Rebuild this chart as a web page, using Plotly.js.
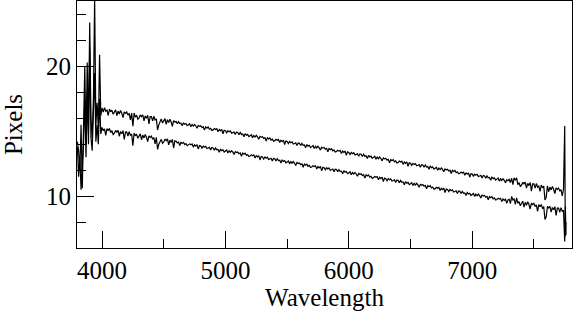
<!DOCTYPE html>
<html>
<head>
<meta charset="utf-8">
<script src="https://cdn.plot.ly/plotly-3.0.1.min.js"></script>
<style>html,body{margin:0;padding:0;background:#fff;}#chart{width:573px;height:311px;}</style>
</head>
<body>
<div id="chart"></div>
<script>
// Wavelength samples (Angstrom)
var wavelength = [
3800,3810,3820,3830,3840,3850,3860,3870,3880,3890,
3900,3910,3920,3930,3940,3950,3960,3970,3980,3990,
4000,4010,4020,4030,4040,4050,4060,4070,4080,4090,
4100,4110,4120,4130,4140,4150,4160,4170,4180,4190,
4200,4210,4220,4230,4240,4250,4260,4270,4280,4290,
4300,4310,4320,4330,4340,4350,4360,4370,4380,4390,
4400,4410,4420,4430,4440,4450,4460,4470,4480,4490,
4500,4510,4520,4530,4540,4550,4560,4570,4580,4590,
4600,4610,4620,4630,4640,4650,4660,4670,4680,4690,
4700,4710,4720,4730,4740,4750,4760,4770,4780,4790,
4800,4810,4820,4830,4840,4850,4860,4870,4880,4890,
4900,4910,4920,4930,4940,4950,4960,4970,4980,4990,
5000,5010,5020,5030,5040,5050,5060,5070,5080,5090,
5100,5110,5120,5130,5140,5150,5160,5170,5180,5190,
5200,5210,5220,5230,5240,5250,5260,5270,5280,5290,
5300,5310,5320,5330,5340,5350,5360,5370,5380,5390,
5400,5410,5420,5430,5440,5450,5460,5470,5480,5490,
5500,5510,5520,5530,5540,5550,5560,5570,5580,5590,
5600,5610,5620,5630,5640,5650,5660,5670,5680,5690,
5700,5710,5720,5730,5740,5750,5760,5770,5780,5790,
5800,5810,5820,5830,5840,5850,5860,5870,5880,5890,
5900,5910,5920,5930,5940,5950,5960,5970,5980,5990,
6000,6010,6020,6030,6040,6050,6060,6070,6080,6090,
6100,6110,6120,6130,6140,6150,6160,6170,6180,6190,
6200,6210,6220,6230,6240,6250,6260,6270,6280,6290,
6300,6310,6320,6330,6340,6350,6360,6370,6380,6390,
6400,6410,6420,6430,6440,6450,6460,6470,6480,6490,
6500,6510,6520,6530,6540,6550,6560,6570,6580,6590,
6600,6610,6620,6630,6640,6650,6660,6670,6680,6690,
6700,6710,6720,6730,6740,6750,6760,6770,6780,6790,
6800,6810,6820,6830,6840,6850,6860,6870,6880,6890,
6900,6910,6920,6930,6940,6950,6960,6970,6980,6990,
7000,7010,7020,7030,7040,7050,7060,7070,7080,7090,
7100,7110,7120,7130,7140,7150,7160,7170,7180,7190,
7200,7210,7220,7230,7240,7250,7260,7270,7280,7290,
7300,7310,7320,7330,7340,7350,7360,7370,7380,7390,
7400,7410,7420,7430,7440,7450,7460,7470,7480,7490,
7500,7510,7520,7530,7540,7550,7560,7570,7580,7590,
7600,7610,7620,7630,7640,7650,7660,7670,7680,7690,
7700,7710,7720,7730,7740,
7750,7755,7760
];

// Upper spectrum (pixels)
var upperSpectrum = [
14.2,13.5,12.0,15.5,10.6,17.0,20.0,14.0,20.3,15.0,
23.4,16.0,14.5,17.5,25.3,15.5,17.2,15.2,20.9,16.2,
16.80,16.48,16.83,16.55,16.63,16.22,16.72,16.50,16.63,16.31,
16.47,16.65,16.20,16.56,16.34,16.61,16.39,16.05,16.50,16.38,
16.49,16.25,16.38,15.88,16.40,15.40,16.41,16.09,16.24,15.94,
16.04,16.26,16.13,16.27,15.81,16.18,16.00,16.24,15.57,16.13,
16.13,15.81,16.16,15.88,15.96,15.10,15.50,15.83,15.96,15.64,
15.80,15.98,15.53,15.89,15.67,15.94,15.72,15.38,15.83,15.71,
15.75,15.58,15.75,15.60,15.63,15.42,15.66,15.54,15.60,15.43,
15.50,15.58,15.35,15.52,15.40,15.53,15.41,15.23,15.45,15.38,
15.42,15.29,15.35,15.09,15.34,15.25,15.33,15.16,15.23,15.07,
15.11,15.21,15.14,15.20,14.96,15.14,15.04,15.15,14.81,15.08,
15.05,14.89,15.05,14.96,15.03,14.86,14.90,14.95,14.75,14.94,
14.91,14.74,14.91,14.76,14.79,14.58,14.82,14.70,14.76,14.59,
14.66,14.74,14.51,14.68,14.56,14.69,14.57,14.39,14.61,14.54,
14.58,14.45,14.51,14.25,14.50,14.41,14.49,14.32,14.39,14.23,
14.28,14.38,14.31,14.37,14.13,14.31,14.21,14.32,13.98,14.25,
14.21,14.05,14.21,14.12,14.19,14.02,14.06,14.11,13.91,14.10,
14.07,13.90,14.07,13.92,13.95,13.74,13.98,13.86,13.92,13.75,
13.82,13.90,13.67,13.84,13.72,13.85,13.73,13.55,13.77,13.70,
13.75,13.62,13.68,13.42,13.67,13.58,13.66,13.49,13.56,13.40,
13.44,13.54,13.47,13.53,13.29,13.47,13.37,13.48,13.14,13.41,
13.37,13.21,13.37,13.28,13.35,13.18,13.22,13.27,13.07,13.26,
13.23,13.06,13.23,13.08,13.11,12.90,13.14,13.02,13.08,12.91,
12.99,13.07,12.84,13.01,12.89,13.02,12.90,12.72,12.94,12.87,
12.91,12.78,12.84,12.58,12.83,12.74,12.82,12.65,12.72,12.56,
12.60,12.70,12.63,12.69,12.45,12.63,12.53,12.64,12.30,12.57,
12.53,12.37,12.53,12.44,12.51,12.34,12.38,12.43,12.23,12.42,
12.40,12.23,12.40,12.25,12.28,12.07,12.31,12.19,12.25,12.08,
12.15,12.23,12.00,12.17,12.05,12.18,12.06,11.88,12.10,12.03,
12.07,11.94,12.00,11.74,11.99,11.90,11.98,11.81,11.88,11.72,
11.76,11.86,11.79,11.85,11.61,11.79,11.69,11.80,11.46,11.73,
11.70,11.54,11.70,11.61,11.68,11.51,11.55,11.60,11.40,11.59,
11.56,11.39,11.56,11.41,11.44,11.23,11.47,11.35,11.41,11.24,
11.31,11.39,11.16,11.33,11.21,11.34,11.22,11.04,11.26,11.19,
11.29,11.05,11.38,10.88,11.40,11.23,11.41,10.89,11.04,10.74,
10.85,11.07,10.94,11.08,10.62,10.99,10.81,11.05,10.38,10.94,
10.94,10.62,10.97,10.69,10.77,10.36,10.86,10.64,10.77,9.70,
9.90,10.79,10.34,10.70,10.48,10.75,10.53,10.19,10.64,10.52,
10.62,10.38,10.51,10.01,10.53,
15.4,6.9,8.0
];

// Lower spectrum (pixels)
var lowerSpectrum = [
13.8,11.5,13.0,10.5,12.5,14.0,17.5,13.0,18.0,14.0,
21.5,14.5,13.5,16.0,19.5,14.2,15.5,14.0,17.5,14.8,
15.30,15.06,15.19,14.69,15.21,15.04,15.22,14.90,15.05,14.75,
14.85,15.07,14.94,15.08,14.62,14.99,14.81,15.05,14.38,14.94,
14.95,14.63,14.98,14.70,14.78,13.90,14.87,14.65,14.78,14.46,
14.62,14.80,14.35,14.71,14.49,14.76,14.54,14.20,14.65,14.53,
14.63,14.39,14.52,14.02,14.54,13.60,14.00,14.23,14.38,14.08,
14.18,14.40,14.27,14.41,13.95,14.32,14.14,14.38,13.71,14.27,
14.24,14.11,14.17,13.91,14.16,14.07,14.15,13.98,14.05,13.89,
13.93,14.03,13.96,14.02,13.78,13.96,13.86,13.97,13.63,13.90,
13.86,13.70,13.86,13.77,13.84,13.67,13.71,13.76,13.56,13.75,
13.72,13.55,13.72,13.57,13.60,13.39,13.63,13.51,13.57,13.40,
13.48,13.56,13.33,13.50,13.38,13.51,13.39,13.21,13.43,13.36,
13.40,13.27,13.33,13.07,13.32,13.23,13.31,13.14,13.21,13.05,
13.09,13.19,13.12,13.18,12.94,13.12,13.02,13.13,12.79,13.06,
13.02,12.86,13.02,12.93,13.00,12.83,12.87,12.92,12.72,12.91,
12.89,12.72,12.89,12.74,12.77,12.56,12.80,12.68,12.74,12.57,
12.64,12.72,12.49,12.66,12.54,12.67,12.55,12.37,12.59,12.52,
12.56,12.43,12.49,12.23,12.48,12.39,12.47,12.30,12.37,12.21,
12.25,12.35,12.28,12.34,12.10,12.28,12.18,12.29,11.95,12.22,
12.19,12.03,12.19,12.10,12.17,12.00,12.04,12.09,11.89,12.08,
12.05,11.88,12.05,11.90,11.93,11.72,11.96,11.84,11.90,11.73,
11.80,11.88,11.65,11.82,11.70,11.83,11.71,11.53,11.75,11.68,
11.72,11.59,11.65,11.39,11.64,11.55,11.63,11.46,11.53,11.37,
11.42,11.52,11.45,11.51,11.27,11.45,11.35,11.46,11.12,11.39,
11.35,11.19,11.35,11.26,11.33,11.16,11.20,11.25,11.05,11.24,
11.21,11.04,11.21,11.06,11.09,10.88,11.12,11.00,11.06,10.89,
10.96,11.04,10.81,10.98,10.86,10.99,10.87,10.69,10.91,10.84,
10.89,10.76,10.82,10.56,10.81,10.72,10.80,10.63,10.70,10.54,
10.58,10.68,10.61,10.67,10.43,10.61,10.51,10.62,10.28,10.55,
10.51,10.35,10.51,10.42,10.49,10.32,10.36,10.41,10.21,10.40,
10.37,10.20,10.37,10.22,10.25,10.04,10.28,10.16,10.22,10.05,
10.13,10.21,9.98,10.15,10.03,10.16,10.04,9.86,10.08,10.01,
10.05,9.92,9.98,9.72,9.97,9.88,9.96,9.79,9.86,9.70,
9.74,9.84,9.77,9.83,9.59,9.77,9.67,9.78,9.44,9.71,
9.75,9.43,9.98,9.70,9.78,9.37,9.87,9.45,9.58,9.26,
9.43,9.61,9.16,9.52,9.30,9.57,9.35,9.01,9.46,9.34,
9.44,9.20,9.33,8.83,9.35,9.18,9.36,9.04,9.19,8.20,
8.40,9.21,9.08,9.22,8.76,9.13,8.95,9.19,8.52,9.08,
9.08,8.76,9.11,8.83,8.91,
6.5,9.2,7.0
];

var xTitle = "Wavelength";
var yTitle = "Pixels";

var lineStyle = {color: "#000000", width: 1.2};
var traces = [
  {x: wavelength, y: upperSpectrum, type: "scatter", mode: "lines", line: lineStyle, hoverinfo: "skip"},
  {x: wavelength, y: lowerSpectrum, type: "scatter", mode: "lines", line: lineStyle, hoverinfo: "skip"}
];

var font = {family: "Liberation Serif", size: 25, color: "#000000"};

var layout = {
  width: 573, height: 311,
  margin: {l: 77, r: 1, t: 1, b: 63, pad: 0},
  paper_bgcolor: "#ffffff", plot_bgcolor: "#ffffff",
  showlegend: false,
  font: font,
  xaxis: {
    range: [3797, 7809],
    tick0: 0, dtick: 1000,
    ticks: "inside", ticklen: 17, tickwidth: 1, tickcolor: "#000000",
    minor: {dtick: 500, ticks: "inside", ticklen: 9, tickwidth: 1, tickcolor: "#000000"},
    showline: true, mirror: true, linecolor: "#000000", linewidth: 1,
    showgrid: false, zeroline: false,
    tickfont: font,
    title: {text: xTitle, font: font, standoff: 4}
  },
  yaxis: {
    range: [6, 25.05],
    tick0: 0, dtick: 10,
    ticks: "inside", ticklen: 17, tickwidth: 1, tickcolor: "#000000",
    minor: {dtick: 2, ticks: "inside", ticklen: 9, tickwidth: 1, tickcolor: "#000000"},
    showline: true, mirror: true, linecolor: "#000000", linewidth: 1,
    showgrid: false, zeroline: false,
    tickfont: font,
    title: {text: yTitle, font: font, standoff: 20}
  }
};

Plotly.newPlot("chart", traces, layout, {staticPlot: true, displayModeBar: false});
</script>
</body>
</html>
